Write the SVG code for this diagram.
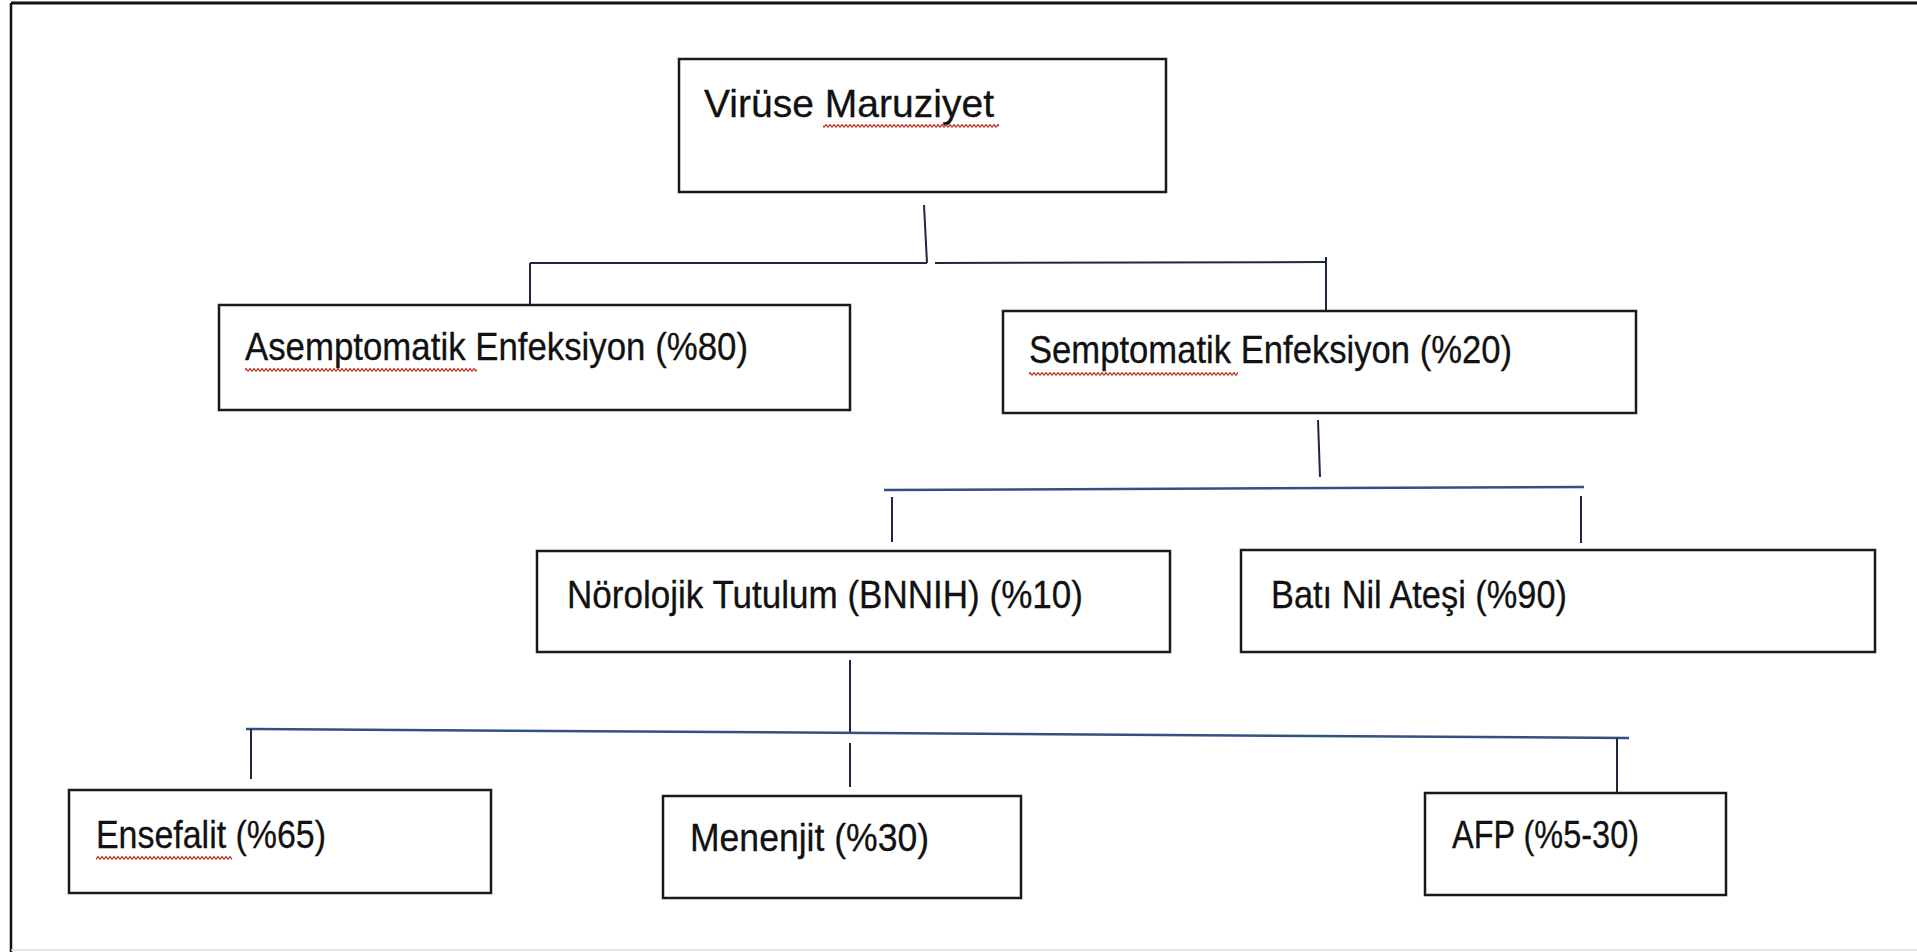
<svg xmlns="http://www.w3.org/2000/svg" width="1917" height="952" viewBox="0 0 1917 952">
<style>
.box{fill:#fff;stroke:#1a1a1a;stroke-width:2.5}
.lbl{font-family:"Liberation Sans",Arial,sans-serif;font-size:39px;fill:#111;stroke:#111;stroke-width:0.3}
.con{stroke:#1f2640;stroke-width:2;fill:none}
.bus{stroke:#34507e;stroke-width:2.5;fill:none}
</style>
<defs>
<pattern id="wave" width="4" height="4" patternUnits="userSpaceOnUse">
<path d="M0,3.5 L2,0.5 L4,3.5" stroke="#c0392b" stroke-width="1.3" fill="none"/>
</pattern>
</defs>
<rect x="0" y="0" width="1917" height="952" fill="#fff"/>
<g id="frame">
<line x1="11" y1="3" x2="1917" y2="3" stroke="#111" stroke-width="3"/>
<line x1="11" y1="3" x2="11" y2="952" stroke="#111" stroke-width="2.5"/>
<line x1="11" y1="950" x2="1917" y2="950" stroke="#ddd" stroke-width="1.5"/>
</g>
<g id="connectors">
<line class="con" x1="924" y1="205" x2="927" y2="263"/>
<line class="con" x1="530" y1="263" x2="927" y2="263"/>
<line class="con" x1="935" y1="263" x2="1326" y2="262"/>
<line class="con" x1="530" y1="263" x2="530" y2="305"/>
<line class="con" x1="1326" y1="257" x2="1326" y2="311"/>
<line class="con" x1="1318" y1="420" x2="1320" y2="477"/>
<line class="bus" x1="884" y1="490" x2="1584" y2="487"/>
<line class="con" x1="892" y1="497" x2="892" y2="542"/>
<line class="con" x1="1581" y1="496" x2="1581" y2="543"/>
<line class="con" x1="850" y1="660" x2="850" y2="733"/>
<line class="bus" x1="246" y1="729" x2="1629" y2="738"/>
<line class="con" x1="251" y1="729" x2="251" y2="779"/>
<line class="con" x1="850" y1="743" x2="850" y2="787"/>
<line class="con" x1="1617" y1="738" x2="1617" y2="803"/>
</g>
<g id="n-viruse">
<rect class="box" x="679" y="59" width="487" height="133"/>
<text class="lbl" x="704" y="117" textLength="290" lengthAdjust="spacingAndGlyphs">Virüse Maruziyet</text>
<rect x="823" y="124" width="176" height="4" fill="url(#wave)"/>
</g>
<g id="n-asemptomatik">
<rect class="box" x="219" y="305" width="631" height="105"/>
<text class="lbl" x="245" y="360" textLength="503" lengthAdjust="spacingAndGlyphs">Asemptomatik Enfeksiyon (%80)</text>
<rect x="245" y="368" width="232" height="4" fill="url(#wave)"/>
</g>
<g id="n-semptomatik">
<rect class="box" x="1003" y="311" width="633" height="102"/>
<text class="lbl" x="1029" y="363" textLength="483" lengthAdjust="spacingAndGlyphs">Semptomatik Enfeksiyon (%20)</text>
<rect x="1029" y="372" width="209" height="4" fill="url(#wave)"/>
</g>
<g id="n-norolojik">
<rect class="box" x="537" y="551" width="633" height="101"/>
<text class="lbl" x="567" y="608" textLength="516" lengthAdjust="spacingAndGlyphs">Nörolojik Tutulum (BNNIH) (%10)</text>
</g>
<g id="n-bati">
<rect class="box" x="1241" y="550" width="634" height="102"/>
<text class="lbl" x="1271" y="608" textLength="296" lengthAdjust="spacingAndGlyphs">Batı Nil Ateşi (%90)</text>
</g>
<g id="n-ensefalit">
<rect class="box" x="69" y="790" width="422" height="103"/>
<text class="lbl" x="96" y="848" textLength="230" lengthAdjust="spacingAndGlyphs">Ensefalit (%65)</text>
<rect x="96" y="856" width="136" height="4" fill="url(#wave)"/>
</g>
<g id="n-menenjit">
<rect class="box" x="663" y="796" width="358" height="102"/>
<text class="lbl" x="690" y="851" textLength="239" lengthAdjust="spacingAndGlyphs">Menenjit (%30)</text>
</g>
<g id="n-afp">
<rect class="box" x="1425" y="793" width="301" height="102"/>
<text class="lbl" x="1452" y="848" textLength="187" lengthAdjust="spacingAndGlyphs">AFP (%5-30)</text>
</g>
</svg>
